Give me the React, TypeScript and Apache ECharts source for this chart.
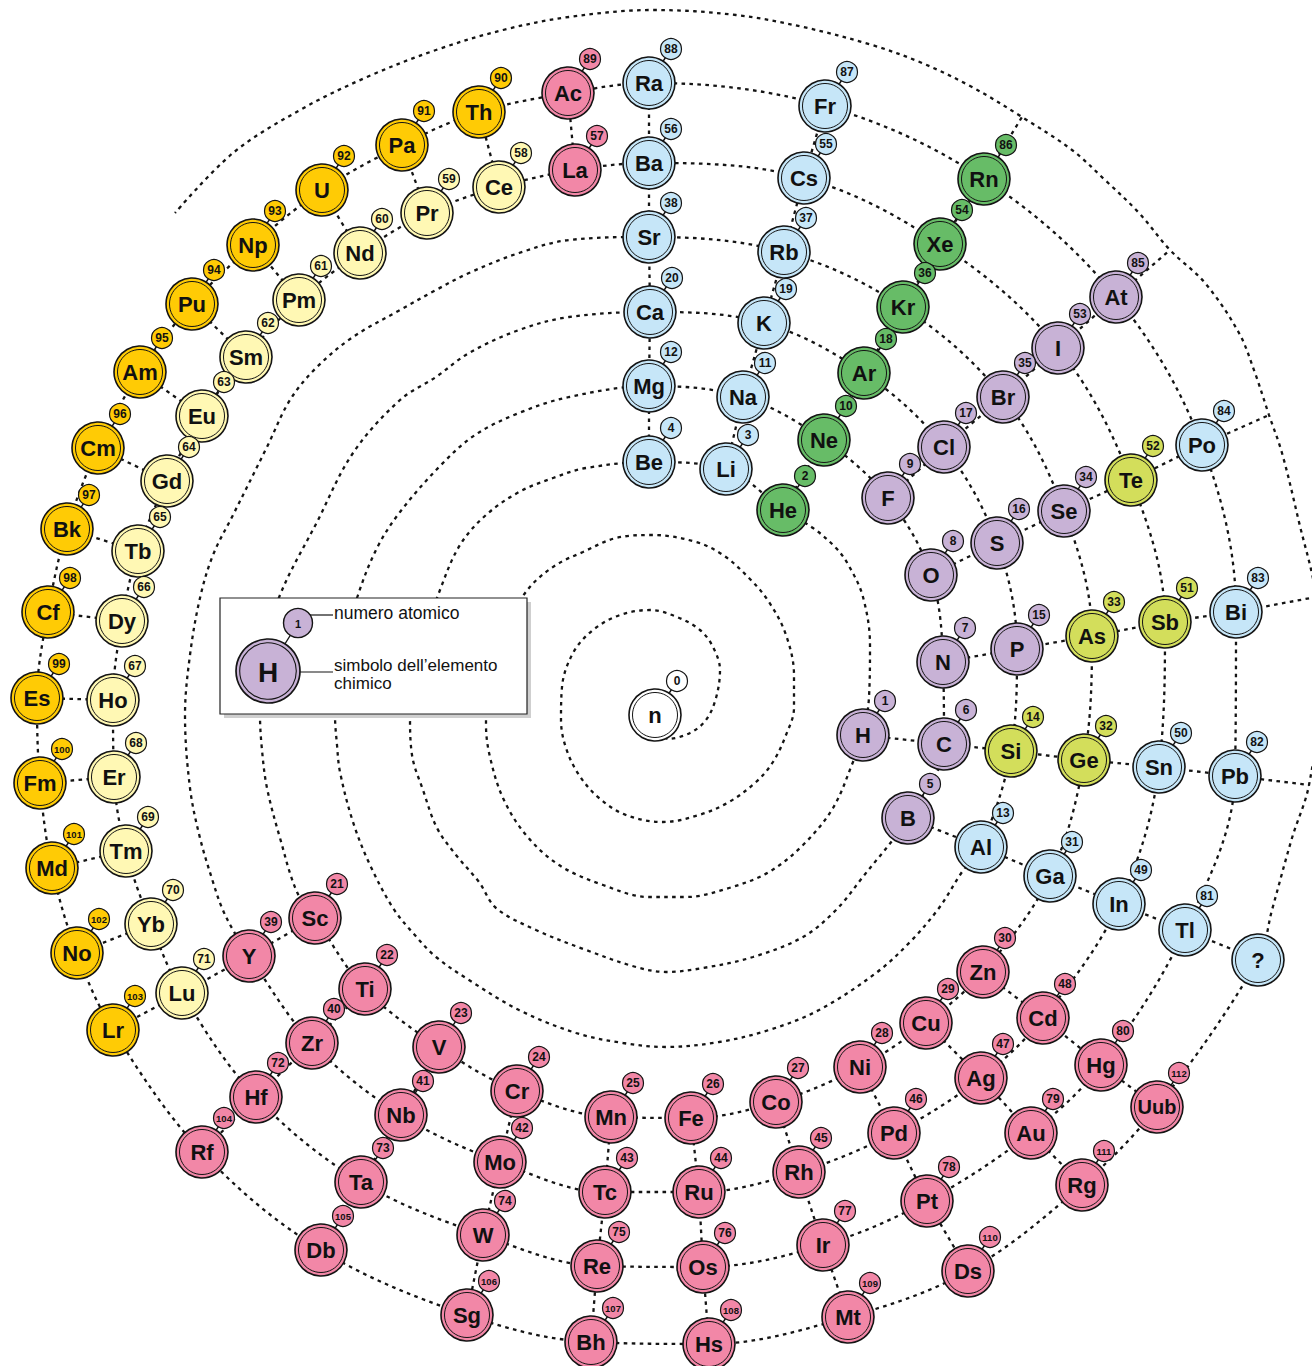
import React, { useEffect, useRef } from "react";
import * as echarts from "echarts";

// ---------- element data (pixel space) ----------
const SYMBOLS = ["n","H","He","Li","Be","B","C","N","O","F","Ne","Na","Mg","Al","Si","P","S","Cl","Ar","K","Ca","Sc","Ti","V","Cr","Mn","Fe","Co","Ni","Cu","Zn","Ga","Ge","As","Se","Br","Kr","Rb","Sr","Y","Zr","Nb","Mo","Tc","Ru","Rh","Pd","Ag","Cd","In","Sn","Sb","Te","I","Xe","Cs","Ba","La","Ce","Pr","Nd","Pm","Sm","Eu","Gd","Tb","Dy","Ho","Er","Tm","Yb","Lu","Hf","Ta","W","Re","Os","Ir","Pt","Au","Hg","Tl","Pb","Bi","Po","At","Rn","Fr","Ra","Ac","Th","Pa","U","Np","Pu","Am","Cm","Bk","Cf","Es","Fm","Md","No","Lr","Rf","Db","Sg","Bh","Hs","Mt","Ds","Rg","Uub","?"];

const EL_X = [655,863,783,726,649,908,944,943,931,888,
  824,743,649,981,1011,1017,997,944,864,764,
  650,315,365,439,517,611,691,776,860,926,
  983,1050,1084,1092,1064,1003,903,784,649,249,
  312,401,500,605,699,799,894,981,1043,1119,
  1159,1165,1131,1058,940,804,649,575,499,427,
  360,299,246,202,167,138,122,113,114,126,
  151,182,256,361,483,597,703,823,927,1031,
  1101,1185,1235,1236,1202,1116,984,825,649,568,
  479,402,322,253,192,140,98,67,48,37,
  40,52,77,113,202,321,467,591,709,848,
  968,1082,1157,1258];

const EL_Y = [715,735,510,469,462,818,744,662,575,498,
  440,397,386,847,751,649,543,447,373,323,
  312,918,989,1047,1091,1117,1118,1102,1067,1023,
  972,876,760,636,511,397,307,252,237,956,
  1043,1115,1162,1192,1192,1172,1133,1078,1018,904,
  767,622,480,348,244,178,163,170,187,213,
  253,300,357,416,481,551,621,700,777,851,
  924,993,1097,1182,1235,1266,1267,1245,1201,1133,
  1065,930,776,612,445,297,179,106,83,93,
  112,145,190,245,304,372,448,529,612,698,
  783,868,953,1030,1152,1250,1315,1342,1344,1317,
  1271,1185,1107,960];

// w white, b light blue, g noble gas, p non-metal, m metalloid, t transition, l lanthanide, a actinide
const KIND = ("wpgbbpppppgbbbmpppgbb" + "tttttttttt" + "bmmppgbb" + "tttttttttt" + "bbmmpgbbt" +
  "llllllllllllll" + "ttttttttt" + "bbbbpgbbt" + "aaaaaaaaaaaaaa" + "ttttttttt" + "b").split("");

const COLORS: Record<string, string> = {
  w: "#FFFFFF", b: "#C6E6F8", g: "#67BC67", p: "#C8B2D6",
  m: "#D3DE5B", t: "#F287A7", l: "#FFF8B4", a: "#FFCB05",
};

// empty places at the outer turn where the group lines end
const SLOT_NAMES = ["114", "115", "116", "117", "118"];
const SLOT_X = [1309, 1316, 1269, 1170, 1022];
const SLOT_Y = [785, 597, 415, 250, 117];

// ---------- spiral guide waypoints ----------
const N_SPIRAL = [[668,739],[690,733],[706,720],[716,698],[720,670],[713,647],[700,630],[677,617],[650,610],[620,615],[593,630],[573,653],[562,687],[561,720],[566,748],[579,775],[599,798],[626,815],[663,822],[699,815],[729,802],[756,782],[773,762],[786,735],[794,708],[794,675],[786,635],[769,602],[749,578],[723,555],[696,542],[653,535],[616,538],[583,552],[556,565],[529,588],[507,625],[493,665],[487,700],[486,725],[490,757],[503,798],[526,835],[559,865],[603,885],[649,897],[686,897],[729,888],[769,872],[803,845],[833,808],[853,762]];
const H_TO_HE = [[869,697],[870,645],[863,597],[849,566],[836,548],[813,528]];
const BE_ARC = [[586,468],[553,478],[519,492],[486,515],[460,545],[440,590],[420,650],[410,715],[412,755],[423,790],[437,828],[456,855],[479,882],[496,908],[536,930],[586,950],[636,967],[666,972],[703,968],[753,957],[803,937],[836,910],[862,878]];
const MG_ARC = [[569,397],[519,413],[475,435],[440,466],[400,512],[377,548],[358,595],[343,650],[335,715],[337,745],[340,772],[353,822],[370,865],[393,908],[413,933],[436,957],[469,980],[519,1010],[576,1033],[623,1043],[666,1047],[719,1042],[769,1030],[819,1010],[876,973],[910,942],[939,908],[962,872]];
const CA_ARC = [[569,317],[519,330],[469,353],[436,377],[400,400],[353,453],[317,522],[280,595],[265,650],[260,715],[262,750],[267,788],[280,838],[297,892]];
const SR_ARC = [[569,240],[519,253],[469,273],[436,290],[400,310],[353,337],[317,367],[290,400],[267,447],[233,515],[213,555],[200,598],[190,655],[185,715],[190,788],[200,838],[213,882],[222,908],[233,930]];
const OUTER_ARC = [[1272,910],[1292,838],[1309,785],[1320,690],[1316,597],[1299,522],[1282,453],[1269,415],[1255,373],[1239,333],[1205,283],[1170,250],[1139,213],[1105,180],[1072,150],[1022,117],[972,87],[922,63],[872,45],[803,27],[736,15],[653,10],[569,17],[503,30],[436,50],[367,77],[300,110],[233,153],[175,213]];

const SPIRAL_DETOURS: Record<number, number[][]> = {
  0: N_SPIRAL, 1: H_TO_HE, 4: BE_ARC, 12: MG_ARC, 20: CA_ARC, 38: SR_ARC, 113: OUTER_ARC,
};

// ---------- group connections ----------
const GROUPS = [
  ["Li","Na","K","Rb","Cs","Fr"],
  ["Be","Mg","Ca","Sr","Ba","Ra"],
  ["Sc","Y","Lu","Lr"],
  ["Ti","Zr","Hf","Rf"],
  ["V","Nb","Ta","Db"],
  ["Cr","Mo","W","Sg"],
  ["Mn","Tc","Re","Bh"],
  ["Fe","Ru","Os","Hs"],
  ["Co","Rh","Ir","Mt"],
  ["Ni","Pd","Pt","Ds"],
  ["Cu","Ag","Au","Rg"],
  ["Zn","Cd","Hg","Uub"],
  ["B","Al","Ga","In","Tl","?"],
  ["H","C","Si","Ge","Sn","Pb","#114"],
  ["N","P","As","Sb","Bi","#115"],
  ["O","S","Se","Te","Po","#116"],
  ["F","Cl","Br","I","At","#117"],
  ["He","Ne","Ar","Kr","Xe","Rn","#118"],
  ["La","Ac"],["Ce","Th"],["Pr","Pa"],["Nd","U"],["Pm","Np"],["Sm","Pu"],["Eu","Am"],
  ["Gd","Cm"],["Tb","Bk"],["Dy","Cf"],["Ho","Es"],["Er","Fm"],["Tm","Md"],["Yb","No"],
];

const FONT = "'Liberation Sans', Arial, Helvetica, sans-serif";
const INK = "#141414";
const BADGE_DX = 22;
const BADGE_DY = -34;
const DOTS = [3.6, 4.4];
const DOT_WIDTH = 2.3;

function pointOf(name: string): number[] {
  if (name.startsWith("#")) {
    const k = SLOT_NAMES.indexOf(name.slice(1));
    return [SLOT_X[k], SLOT_Y[k]];
  }
  const i = SYMBOLS.indexOf(name);
  return [EL_X[i], EL_Y[i]];
}

function buildOption() {
  const spiralPath: number[][] = [];
  for (let z = 0; z < SYMBOLS.length; z++) {
    spiralPath.push([EL_X[z], EL_Y[z]]);
    const extra = SPIRAL_DETOURS[z];
    if (extra) extra.forEach((p) => spiralPath.push(p));
  }

  const outer = SYMBOLS.map((s, i) => ({
    name: s,
    value: [EL_X[i], EL_Y[i]],
    itemStyle: { color: COLORS[KIND[i]] },
  }));
  const inner = SYMBOLS.map((s, i) => ({
    name: s,
    value: [EL_X[i], EL_Y[i]],
    label: s.length > 2 ? { fontSize: 20 } : undefined,
  }));
  const badgeIdx = SYMBOLS.map((_, i) => i).filter((i) => SYMBOLS[i] !== "?");
  const badges = badgeIdx.map((i) => ({
    name: String(i),
    value: [EL_X[i] + BADGE_DX, EL_Y[i] + BADGE_DY],
    itemStyle: { color: COLORS[KIND[i]] },
    label: { fontSize: i >= 100 ? 9.5 : 12 },
  }));
  const connectors = badgeIdx.map((i) => ({
    coords: [[EL_X[i], EL_Y[i]], [EL_X[i] + BADGE_DX, EL_Y[i] + BADGE_DY]],
  }));
  const groupLines = GROUPS.map((g) => ({ coords: g.map(pointOf) }));

  const purple = COLORS.p;

  return {
    animation: false,
    backgroundColor: "#ffffff",
    tooltip: { show: false },
    grid: { left: 0, right: 0, top: 0, bottom: 0, containLabel: false },
    xAxis: { type: "value", min: 0, max: 1312, show: false },
    yAxis: { type: "value", min: 0, max: 1366, inverse: true, show: false },
    series: [
      {
        type: "line",
        data: spiralPath,
        smooth: 0.35,
        symbol: "none",
        silent: true,
        z: 1,
        lineStyle: { color: INK, width: DOT_WIDTH, type: DOTS, cap: "butt" },
      },
      {
        type: "lines",
        coordinateSystem: "cartesian2d",
        polyline: true,
        silent: true,
        z: 1,
        data: groupLines,
        lineStyle: { color: INK, width: DOT_WIDTH, type: DOTS, opacity: 1, cap: "butt" },
      },
      {
        type: "lines",
        coordinateSystem: "cartesian2d",
        silent: true,
        z: 2,
        data: connectors,
        lineStyle: { color: INK, width: 1.4, type: "solid", opacity: 1 },
      },
      {
        type: "scatter",
        data: outer,
        symbol: "circle",
        symbolSize: 52,
        silent: true,
        z: 3,
        itemStyle: { borderColor: INK, borderWidth: 1.6, opacity: 1 },
        emphasis: { disabled: true },
      },
      {
        type: "scatter",
        data: inner,
        symbol: "circle",
        symbolSize: 45,
        silent: true,
        z: 4,
        itemStyle: { color: "rgba(0,0,0,0)", borderColor: INK, borderWidth: 1, opacity: 1 },
        label: {
          show: true,
          position: "inside",
          formatter: "{b}",
          fontFamily: FONT,
          fontWeight: "bold",
          fontSize: 22,
          color: "#111",
        },
        emphasis: { disabled: true },
      },
      {
        type: "scatter",
        data: badges,
        symbol: "circle",
        symbolSize: 21,
        silent: true,
        z: 5,
        itemStyle: { borderColor: INK, borderWidth: 1.2, opacity: 1 },
        label: {
          show: true,
          position: "inside",
          formatter: "{b}",
          fontFamily: FONT,
          fontWeight: "bold",
          fontSize: 12,
          color: "#111",
        },
        emphasis: { disabled: true },
      },
    ],
    graphic: [
      { type: "rect", z: 10, shape: { x: 224, y: 602, width: 307, height: 116 }, style: { fill: "#cfcfcf" } },
      { type: "rect", z: 11, shape: { x: 220, y: 598, width: 307, height: 116 }, style: { fill: "#ffffff", stroke: "#222", lineWidth: 1.2 } },
      { type: "line", z: 12, shape: { x1: 268, y1: 671, x2: 298, y2: 623 }, style: { stroke: INK, lineWidth: 1.4 } },
      { type: "line", z: 12, shape: { x1: 305, y1: 615, x2: 333, y2: 615 }, style: { stroke: INK, lineWidth: 1.2 } },
      { type: "line", z: 12, shape: { x1: 290, y1: 672, x2: 333, y2: 672 }, style: { stroke: INK, lineWidth: 1.2 } },
      { type: "circle", z: 13, shape: { cx: 298, cy: 623, r: 14.5 }, style: { fill: purple, stroke: INK, lineWidth: 1.4 } },
      { type: "text", z: 14, x: 298, y: 624, style: { text: "1", fontSize: 11, fontWeight: "bold", fontFamily: FONT, fill: "#111", align: "center", verticalAlign: "middle" } },
      { type: "circle", z: 13, shape: { cx: 268, cy: 671, r: 32 }, style: { fill: purple, stroke: INK, lineWidth: 1.7 } },
      { type: "circle", z: 14, shape: { cx: 268, cy: 671, r: 28.3 }, style: { fill: "none", stroke: INK, lineWidth: 1.1 } },
      { type: "text", z: 15, x: 268, y: 672, style: { text: "H", fontSize: 28, fontWeight: "bold", fontFamily: FONT, fill: "#111", align: "center", verticalAlign: "middle" } },
      { type: "text", z: 15, x: 334, y: 613, style: { text: "numero atomico", fontSize: 17.5, fontFamily: FONT, fill: "#111", align: "left", verticalAlign: "middle" } },
      { type: "text", z: 15, x: 334, y: 665, style: { text: "simbolo dell\u2019elemento", fontSize: 17, fontFamily: FONT, fill: "#111", align: "left", verticalAlign: "middle" } },
      { type: "text", z: 15, x: 334, y: 683, style: { text: "chimico", fontSize: 17, fontFamily: FONT, fill: "#111", align: "left", verticalAlign: "middle" } },
    ],
  };
}

export default function App() {
  const ref = useRef<HTMLDivElement>(null);
  useEffect(() => {
    document.body.style.margin = "0";
    const chart = echarts.init(ref.current as HTMLDivElement, null, { renderer: "svg" });
    chart.setOption(buildOption() as any);
    return () => chart.dispose();
  }, []);
  return <div ref={ref} style={{ width: 1312, height: 1366, background: "#fff" }} />;
}
